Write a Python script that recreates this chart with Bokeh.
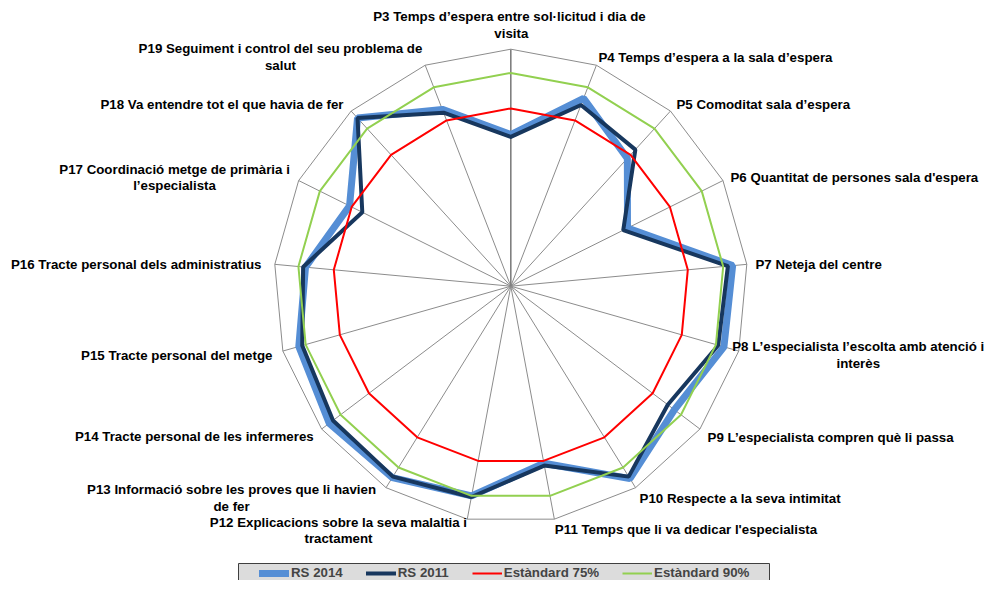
import numpy as np
from bokeh.plotting import figure
from bokeh.models import Range1d, Legend, LegendItem, ColumnDataSource
from bokeh.core.properties import value
from bokeh.embed import file_html
from bokeh.resources import INLINE

# ---------------- data ----------------
categories = [
    "P3 Temps d\u2019espera entre sol\u00b7licitud  i dia de\nvisita",
    "P4 Temps d\u2019espera a la sala d\u2019espera",
    "P5 Comoditat sala d\u2019espera",
    "P6 Quantitat de persones sala d'espera",
    "P7 Neteja del centre",
    "P8 L\u2019especialista l\u2019escolta amb atenci\u00f3 i\ninter\u00e8s",
    "P9 L\u2019especialista compren qu\u00e8 li passa",
    "P10 Respecte a  la seva intimitat",
    "P11 Temps que li va dedicar l'especialista",
    "P12 Explicacions sobre la seva malaltia i\ntractament",
    "P13 Informaci\u00f3 sobre les proves que li havien\nde fer",
    "P14 Tracte personal de les infermeres",
    "P15 Tracte personal del metge",
    "P16 Tracte personal dels administratius",
    "P17 Coordinaci\u00f3 metge de prim\u00e0ria i\nl\u2019especialista",
    "P18 Va entendre tot el que havia de fer",
    "P19 Seguiment i control del seu problema de\nsalut",
]
rs_2014 = [64, 85, 73, 55, 94, 93.5, 86.5, 95.5, 76, 90, 95, 96, 93, 87, 76, 96, 80]
rs_2011 = [63, 82, 78, 53, 92, 91, 83, 94.5, 77, 90.5, 94.5, 94, 91.5, 88, 70, 96, 78.5]
estandard_75 = [75, 75, 75, 75, 75, 75, 75, 75, 75, 75, 75, 75, 75, 75, 75, 75, 75]
estandard_90 = [90, 90, 90, 90, 90, 90, 90, 90, 90, 90, 90, 90, 90, 90, 90, 90, 90]
series_names = ["RS 2014", "RS 2011", "Est\u00e0ndard 75%", "Est\u00e0ndard 90%"]
axis_max = 100

# ---------------- layout / style ----------------
W, H = 985, 580
CX, CY = 510.3, 285.7      # chart centre in canvas px (from left / from top)
R = 237.0                  # px radius for axis_max
FONT = "Liberation Sans"
FSIZE = "13.3px"

# label placement: (align, dx, dy) offsets in px from ring vertex (dy downward)
label_layout = [
    ("center", 0.5, -24.0),
    ("left", 2.0, -8.0),
    ("left", 6.0, -6.6),
    ("left", 7.5, -2.6),
    ("left", 8.7, 0.6),
    ("center", 119.5, 4.0),
    ("left", 7.6, 8.0),
    ("left", 4.0, 10.3),
    ("left", 0.5, 10.0),
    ("center", -128.8, 11.3),
    ("center", -154.5, 10.3),
    ("right", -8.0, 7.5),
    ("right", -10.4, 4.5),
    ("right", -13.3, 0.0),
    ("center", -124.1, -3.0),
    ("right", -7.6, -6.6),
    ("center", -144.7, -8.2),
]

N = len(categories)
ang = np.pi / 2 - 2 * np.pi * np.arange(N) / N
cosa, sina = np.cos(ang), np.sin(ang)
scale = R / axis_max


def poly(vals):
    v = np.asarray(vals, dtype=float) * scale
    xs = list(v * cosa) + [v[0] * cosa[0]]
    ys = list(v * sina) + [v[0] * sina[0]]
    return xs, ys


p = figure(width=W, height=H, output_backend="svg", toolbar_location=None,
           x_range=Range1d(-CX, W - CX), y_range=Range1d(-(H - CY), CY),
           min_border=0, x_axis_location=None, y_axis_location=None)
p.grid.visible = False
p.outline_line_color = None
p.background_fill_color = "white"

# spokes
sx = [[0, axis_max * scale * cosa[i]] for i in range(N)]
sy = [[0, axis_max * scale * sina[i]] for i in range(N)]
p.multi_line(sx[1:], sy[1:], line_color="#8C8C8C", line_width=1)
p.line(sx[0], sy[0], line_color="#7F7F7F", line_width=1.6)
# outer ring
rx, ry = poly([axis_max] * N)
p.line(rx, ry, line_color="#8C8C8C", line_width=1)


def sx2d(x):
    return x - CX


def sy2d(y):
    return CY - y


# legend box (behind legend)
p.quad(left=[sx2d(238)], right=[sx2d(769)], top=[sy2d(563)], bottom=[sy2d(590)],
       fill_color="#DCDCDC", line_color="#3F3F3F", line_width=1)

# series
x1, y1 = poly(rs_2014)
r1 = p.line(x1, y1, line_color="#558ED5", line_width=7, line_cap="round")
x2, y2 = poly(rs_2011)
r2 = p.line(x2, y2, line_color="#17375E", line_width=4, line_cap="round")
x3, y3 = poly(estandard_75)
r3 = p.line(x3, y3, line_color="#FF0000", line_width=2)
x4, y4 = poly(estandard_90)
r4 = p.line(x4, y4, line_color="#92D050", line_width=2)

# category labels
lx, ly, la = [], [], []
for i in range(N):
    align, dx, dy = label_layout[i]
    lx.append(R * cosa[i] + dx)
    ly.append(R * sina[i] - dy)
    la.append(align)
src = ColumnDataSource(dict(x=lx, y=ly, text=categories, align=la))
p.text(x="x", y="y", text="text", source=src, text_align="align",
       text_baseline="middle", text_font=value(FONT), text_font_style="bold",
       text_font_size=FSIZE, text_color="black", text_line_height=1.12)

legend = Legend(items=[LegendItem(label=series_names[0], renderers=[r1]),
                       LegendItem(label=series_names[1], renderers=[r2]),
                       LegendItem(label=series_names[2], renderers=[r3]),
                       LegendItem(label=series_names[3], renderers=[r4])],
                orientation="horizontal", location=(259, 0), padding=0, margin=0,
                spacing=23, glyph_width=30, glyph_height=12, label_height=12,
                label_standoff=2, label_text_font=FONT, label_text_font_style="bold",
                label_text_font_size=FSIZE, background_fill_alpha=0,
                border_line_alpha=0)
p.add_layout(legend)

open("out.html", "w").write(file_html(p, INLINE))
